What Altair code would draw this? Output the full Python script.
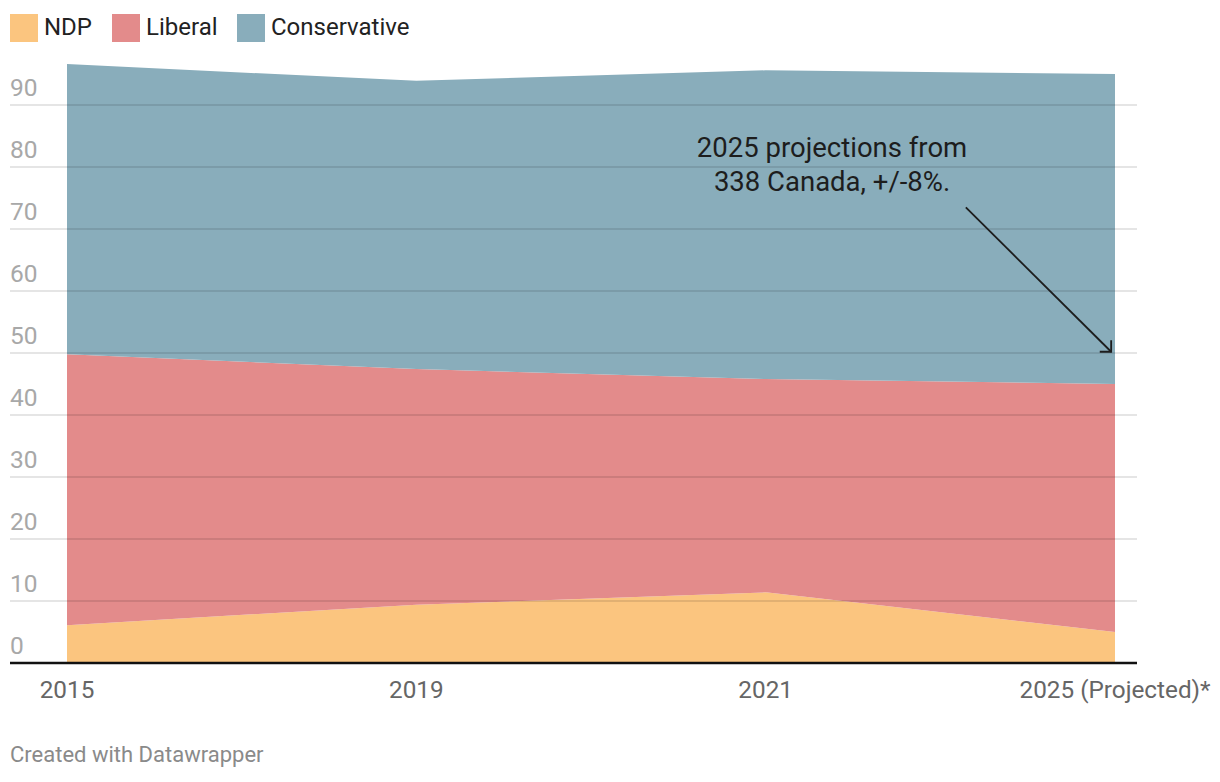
import altair as alt
import pandas as pd

years = ["2015", "2019", "2021", "2025 (Projected)*"]
parties = ["NDP", "Liberal", "Conservative"]
colors = ["#fbc57f", "#e38b8b", "#89adbb"]
ndp = [6.1, 9.4, 11.4, 5.0]
liberal = [43.7, 38.0, 34.4, 40.0]
conservative = [46.8, 46.5, 49.8, 50.0]
y_ticks = [0, 10, 20, 30, 40, 50, 60, 70, 80, 90]

note_text = "2025 projections from\n338 Canada, +/-8%."
note_pos = {"x": 2.19, "y": 81.6}
arrow = {"x": 2.573, "y": 73.5, "x2": 2.989, "y2": 50.2}
credit = "Created with Datawrapper"

FONT = "Roboto"
W, H = 1127, 620

# build stacked table
rows = []
series = {"NDP": ndp, "Liberal": liberal, "Conservative": conservative}
for i, yr in enumerate(years):
    base = 0.0
    for p in parties:
        v = series[p][i]
        rows.append({"idx": i, "year": yr, "party": p, "low": base, "high": base + v})
        base += v
df = pd.DataFrame(rows)

xscale = alt.Scale(domain=[0, 3], range=[57, 1105])
yscale = alt.Scale(domain=[0, 100], range=[H, 0])

area = alt.Chart(df).mark_area(opacity=1).encode(
    x=alt.X("idx:Q", scale=xscale, axis=None),
    y=alt.Y("low:Q", scale=yscale, axis=None),
    y2="high:Q",
    color=alt.Color(
        "party:N",
        scale=alt.Scale(domain=parties, range=colors),
        legend=alt.Legend(
            title=None, orient="none", legendX=0, legendY=-29,
            direction="horizontal", symbolType="square", symbolSize=784,
            symbolStrokeWidth=0, symbolOpacity=1, labelFontSize=24,
            labelFont=FONT, labelColor="#222", columnPadding=19,
            labelOffset=6, padding=0,
        ),
    ),
)

grid_df = pd.DataFrame({"v": [t for t in y_ticks if t > 0]})
grid = alt.Chart(grid_df).mark_rule(color="black", opacity=0.1, strokeWidth=2).encode(
    y=alt.Y("v:Q", scale=yscale, axis=None), x=alt.value(0), x2=alt.value(W)
)

base_df = pd.DataFrame({"v": [0]})
baseline = alt.Chart(base_df).mark_rule(color="#111", strokeWidth=2.5).encode(
    y=alt.Y("v:Q", scale=yscale, axis=None), x=alt.value(0), x2=alt.value(W)
)

ylab_df = pd.DataFrame({"v": y_ticks, "label": [str(t) for t in y_ticks]})
ylabels = alt.Chart(ylab_df).mark_text(
    align="left", baseline="alphabetic", dy=-9, fontSize=24.5, color="#a8a8a8", font=FONT
).encode(y=alt.Y("v:Q", scale=yscale, axis=None), x=alt.value(0), text="label:N")

xlab_df = pd.DataFrame({"idx": list(range(len(years))), "year": years})
xlabels = alt.Chart(xlab_df).mark_text(
    align="center", baseline="alphabetic", fontSize=24.3, color="#666", font=FONT
).encode(x=alt.X("idx:Q", scale=xscale, axis=None), y=alt.value(655), text="year:N")

note_df = pd.DataFrame({"x": [note_pos["x"]], "y": [note_pos["y"]], "t": [note_text]})
note = alt.Chart(note_df).mark_text(
    align="center", baseline="alphabetic", fontSize=27.5, lineHeight=34,
    color="#1d1d1d", font=FONT, lineBreak="\n"
).encode(x=alt.X("x:Q", scale=xscale, axis=None), y=alt.Y("y:Q", scale=yscale, axis=None), text="t:N")

arrow_df = pd.DataFrame([arrow])
arrow_line = alt.Chart(arrow_df).mark_rule(color="#1d1d1d", strokeWidth=1.8).encode(
    x=alt.X("x:Q", scale=xscale, axis=None), y=alt.Y("y:Q", scale=yscale, axis=None),
    x2="x2:Q", y2="y2:Q"
)
arrow_head = alt.Chart(arrow_df).mark_point(
    shape="M-1,-1L0,0L-1,1", angle=45, size=260, filled=False,
    color="#1d1d1d", strokeWidth=1.8, opacity=1
).encode(x=alt.X("x2:Q", scale=xscale, axis=None), y=alt.Y("y2:Q", scale=yscale, axis=None))

credit_df = pd.DataFrame({"t": [credit]})
credit_txt = alt.Chart(credit_df).mark_text(
    align="left", baseline="alphabetic", fontSize=22, color="#8a8a8a", font=FONT
).encode(x=alt.value(0), y=alt.value(719), text="t:N")

chart = alt.layer(
    area, grid, baseline, ylabels, xlabels, note, arrow_line, arrow_head, credit_txt
).properties(
    width=W, height=H,
    autosize=alt.AutoSizeParams(type="none"),
    padding={"left": 2, "top": 35, "right": 75, "bottom": 111},
).configure(font=FONT).configure_view(strokeWidth=0, stroke="transparent")

chart.save("out.html", embed_options={"renderer": "svg", "actions": False})
